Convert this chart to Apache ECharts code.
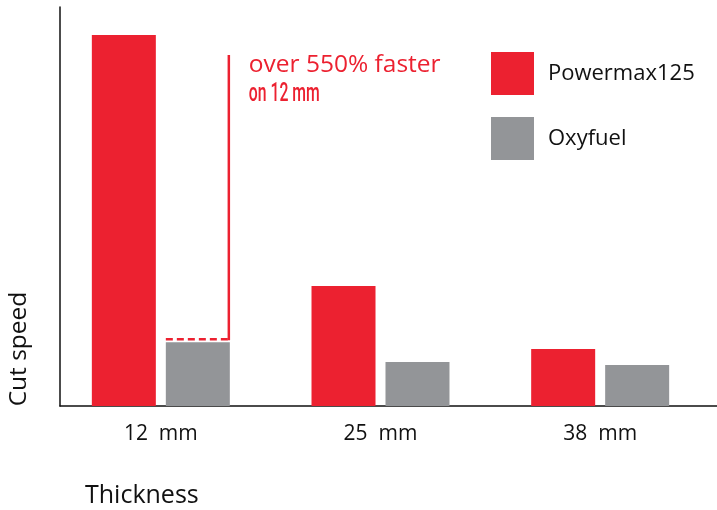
<!DOCTYPE html>
<html>
<head>
<meta charset="utf-8">
<script src="https://cdn.jsdelivr.net/npm/echarts@6/dist/echarts.min.js"></script>
<style>html,body{margin:0;padding:0;background:#fff}#c{width:717px;height:510px}</style>
</head>
<body>
<div id="c"></div>
<script>
const categories = ['12  mm', '25  mm', '38  mm'];
const seriesNames = ['Powermax125', 'Oxyfuel'];
const powermax = [93, 30.1, 14.3];
const oxyfuel = [16, 11, 10.3];
const annotationTitle = 'over 550% faster';
const annotationSub = 'on 12 mm';
const xName = 'Thickness';
const yName = 'Cut speed';

const RED = '#ec2130';
const GRAY = '#939598';
const FONT = '"Open Sans", "Noto Sans", sans-serif';

const chart = echarts.init(document.getElementById('c'), null, {renderer: 'canvas'});
chart.setOption({
  animation: false,
  backgroundColor: '#fff',
  grid: [
    {left: 60, right: 0, top: 7, bottom: 104},
    {left: 51, right: 7, top: 7, bottom: 104}
  ],
  xAxis: [
    {gridIndex: 0, type: 'value', min: 0, max: 1,
     axisLine: {show: true, lineStyle: {color: '#111', width: 1.5}},
     axisTick: {show: false}, axisLabel: {show: false}, splitLine: {show: false}},
    {gridIndex: 1, type: 'category', data: categories,
     axisLine: {show: false}, axisTick: {show: false},
     axisLabel: {margin: 18, fontSize: 21, color: '#111', fontFamily: FONT}}
  ],
  yAxis: [
    {gridIndex: 0, type: 'value', min: 0, max: 100,
     axisLine: {show: true, lineStyle: {color: '#111', width: 1.5}},
     axisTick: {show: false}, axisLabel: {show: false}, splitLine: {show: false}},
    {gridIndex: 1, type: 'value', min: 0, max: 100, show: false}
  ],
  legend: {
    orient: 'vertical', left: 486, top: 47,
    itemWidth: 43, itemHeight: 43, itemGap: 22,
    icon: 'rect',
    textStyle: {fontSize: 22, color: '#111', fontFamily: FONT, padding: [0, 0, 0, 9]},
    data: seriesNames
  },
  series: [
    {name: seriesNames[0], type: 'bar', xAxisIndex: 1, yAxisIndex: 1,
     data: powermax, barWidth: 64, barGap: '15.6%', itemStyle: {color: RED}},
    {name: seriesNames[1], type: 'bar', xAxisIndex: 1, yAxisIndex: 1,
     data: oxyfuel, barWidth: 64, barGap: '15.6%', itemStyle: {color: GRAY}}
  ]
});

// annotation positioned from the library's scales
const g0 = chart.convertToPixel({xAxisIndex: 1, yAxisIndex: 1}, [0, oxyfuel[0]]);
const r0 = chart.convertToPixel({xAxisIndex: 1, yAxisIndex: 1}, [0, powermax[0]]);
const grayLeft = g0[0] + 5;
const grayRight = g0[0] + 68;
const dashY = g0[1] - 3;
const lineTop = r0[1] + 20;

chart.setOption({
  graphic: [
    {type: 'line', shape: {x1: grayRight, y1: lineTop, x2: grayRight, y2: dashY + 1},
     style: {stroke: RED, lineWidth: 2.5}},
    {type: 'line', shape: {x1: grayLeft, y1: dashY, x2: grayRight, y2: dashY},
     style: {stroke: RED, lineWidth: 2.5, lineDash: [7, 4]}},
    {type: 'text', x: grayRight + 20, y: lineTop - 2,
     style: {text: annotationTitle, fill: RED, fontSize: 24.5, fontFamily: FONT, verticalAlign: 'top'}},
    {type: 'text', x: grayRight + 20, y: lineTop + 27, scaleX: 0.63,
     style: {text: annotationSub, fill: RED, fontSize: 25, fontWeight: 500, fontFamily: 'Roboto, sans-serif', verticalAlign: 'top'}},
    {type: 'text', x: 85, y: 496,
     style: {text: xName, fill: '#111', fontSize: 25, fontFamily: FONT, verticalAlign: 'middle'}},
    {type: 'text', x: 19, y: 349, rotation: Math.PI / 2,
     style: {text: yName, fill: '#111', fontSize: 24.5, fontFamily: FONT, align: 'center', verticalAlign: 'middle'}}
  ]
});
</script>
</body>
</html>
